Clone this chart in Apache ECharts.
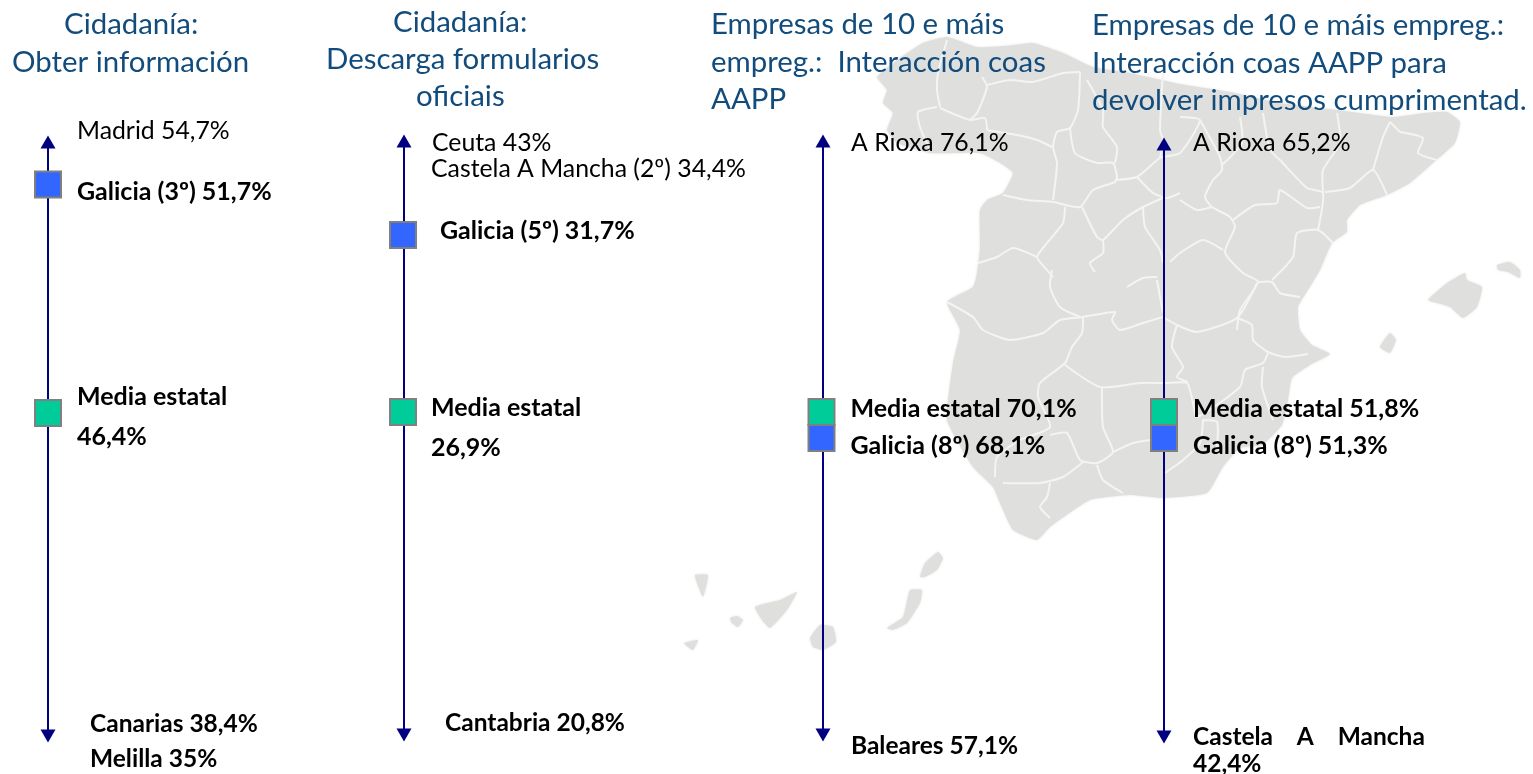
<!DOCTYPE html>
<html><head><meta charset="utf-8">
<style>html,body{margin:0;padding:0;background:#fff}#c{width:1533px;height:774px}</style>
<script src="https://cdn.jsdelivr.net/npm/echarts@6/dist/echarts.min.js"></script>
</head><body><div id="c"></div>
<script>
// ---- data ----
const p1Names = ["Galicia (3º)", "Media estatal"];
const p1Values = [51.7, 46.4];
const p2Names = ["Galicia (5º)", "Media estatal"];
const p2Values = [31.7, 26.9];
const p3Names = ["Media estatal", "Galicia (8º)"];
const p3Values = [70.1, 68.1];
const p4Names = ["Media estatal", "Galicia (8º)"];
const p4Values = [51.8, 51.3];
const COL_GAL = "#3366FF", COL_MED = "#00CC99", COL_TITLE = "#124C7C", COL_AXIS = "#000080";
const FONT = "Lato, Carlito, Calibri, sans-serif";
const TS = 29.4, LS = 24.8, BS = 24.5, DS = 25;

// ---- background map (decorative) ----
const mapLand = [[
 [877,77],[900,58],[923,43],[947,37],[977,47],[1005,46],[1033,43],[1063,53],[1093,67],[1130,73],[1180,84],[1230,92],[1280,103],[1337,110],[1393,117],[1425,113],[1447,112],[1460,122],[1455,143],[1433,163],[1410,183],[1387,195],[1360,205],[1347,220],[1347,232],[1332,243],[1320,270],[1308,290],[1298,307],[1300,330],[1312,345],[1330,354],[1310,365],[1292,378],[1288,400],[1282,425],[1262,445],[1240,448],[1223,467],[1207,493],[1163,498],[1130,495],[1090,500],[1050,527],[1037,540],[1013,530],[1000,503],[993,487],[973,467],[947,420],[953,363],[960,330],[947,302],[973,287],[977,273],[980,247],[980,210],[987,200],[1003,193],[1013,173],[1000,163],[980,153],[930,153],[897,143],[887,130],[893,113],[883,103],[887,90]
],[[1428,300],[1447,283],[1465,273],[1467,280],[1482,287],[1477,307],[1463,318],[1450,307],[1437,303]],
[[1497,265],[1510,262],[1520,270],[1520,278],[1508,272],[1498,270]],
[[1380,347],[1390,333],[1396,340],[1390,353]],
[[695,575],[708,575],[703,597],[697,583]],
[[755,607],[780,600],[797,592],[787,610],[770,628],[762,620]],
[[730,618],[737,616],[743,620],[738,627],[732,623]],
[[684,643],[698,640],[693,650],[688,647]],
[[810,638],[820,625],[833,627],[836,642],[823,650],[813,647]],
[[887,628],[903,617],[910,590],[922,590],[920,603],[907,623],[893,630]],
[[920,577],[925,563],[938,552],[943,558],[937,570],[925,577]]];
const mapBorders = [
 [[947,40],[938,73],[937,90],[940,107]],[[937,107],[918,112],[920,127],[930,150]],[[940,108],[970,120],[985,118],[987,130]],[[982,77],[987,87],[977,113],[970,120]],
 [[987,85],[1010,80],[1033,82],[1063,73],[1080,72]],[[1080,72],[1078,110],[1070,128],[1057,132],[1053,147],[1057,163],[1053,200]],[[987,130],[1017,135],[1037,140],[1052,147]],
 [[1070,128],[1075,153],[1097,163],[1113,163],[1117,177],[1115,182],[1093,190],[1080,207],[1053,202],[1027,200],[1003,195]],
 [[1115,163],[1117,147],[1103,127],[1103,110],[1087,80]],[[1163,73],[1160,130],[1163,140],[1160,158]],[[1115,180],[1137,177],[1160,158],[1180,153],[1200,120],[1180,117]],
 [[1137,177],[1153,193],[1167,198],[1180,193]],[[1082,207],[1097,237],[1103,240],[1123,220],[1143,207],[1163,198]],
 [[1065,207],[1063,223],[1047,243],[1037,257],[1047,270],[1053,277]],[[1037,257],[1013,248],[997,257],[978,263]],[[1103,240],[1103,253],[1090,263],[1095,272]],[[1143,207],[1145,227],[1160,250],[1163,263]],
 [[1200,120],[1220,157],[1222,170],[1213,180],[1205,197],[1212,207],[1230,217],[1235,227],[1225,252],[1243,273],[1258,282],[1240,310],[1237,330]],
 [[1180,200],[1197,210],[1212,207]],[[1170,262],[1180,253],[1203,240],[1223,250]],[[1233,220],[1255,205],[1277,203],[1280,190],[1307,208],[1320,207]],
 [[1258,282],[1272,282],[1280,293],[1300,297]],[[1272,280],[1293,257],[1297,233],[1318,230],[1333,243]],[[1318,230],[1323,193],[1307,188],[1280,160],[1270,150],[1263,113]],
 [[1325,192],[1350,188],[1373,170],[1387,195]],[[1323,192],[1323,170],[1340,143],[1337,113]],[[1373,170],[1383,137],[1390,122]],[[1400,132],[1423,138],[1418,153],[1437,160]],[[1390,122],[1400,132]],
 [[1240,117],[1242,143],[1222,165]],
 [[947,302],[973,317],[983,330],[1010,340],[1043,333],[1060,320],[1083,317],[1115,312],[1112,320],[1120,330],[1143,323],[1163,317]],[[1080,317],[1060,307],[1050,287],[1052,270]],
 [[1083,317],[1082,333],[1072,347],[1065,363],[1040,383],[1038,397],[1050,427],[1020,440],[997,457],[995,477]],
 [[1065,365],[1100,387],[1140,383],[1165,383],[1187,383],[1193,403],[1197,417],[1240,387],[1245,370],[1263,363],[1268,353]],
 [[1102,388],[1103,427],[1113,452],[1097,463],[1080,460],[1067,433],[1050,435]],[[1113,452],[1133,443],[1150,440]],[[1097,465],[1103,480],[1123,493]],[[1083,462],[1063,477],[1040,483],[1003,483]],[[1050,483],[1047,497],[1040,507],[1050,518]],
 [[1163,317],[1177,325],[1197,332],[1237,318],[1257,283]],[[1177,325],[1172,347],[1183,367],[1177,377],[1188,382]],[[1237,318],[1252,325],[1253,340],[1268,352],[1285,357],[1308,354]],
 [[1263,367],[1262,387],[1273,420]],[[1203,420],[1200,443],[1183,460],[1165,473]],[[1203,420],[1217,422],[1217,447]],[[1157,280],[1163,313]],[[1127,287],[1143,278],[1157,277]]
];

// ---- panels ----
const panels = [
 {x:48,  top:142, bottom:736, names:p1Names, values:p1Values, ys:[184.5,413], colors:[COL_GAL,COL_MED], off:0},
 {x:404, top:141, bottom:735, names:p2Names, values:p2Values, ys:[235,412],   colors:[COL_GAL,COL_MED], off:-1},
 {x:823, top:141, bottom:735, names:p3Names, values:p3Values, ys:[412,438],   colors:[COL_MED,COL_GAL], off:-1.5},
 {x:1164,top:144, bottom:737, names:p4Names, values:p4Values, ys:[412,438],   colors:[COL_MED,COL_GAL], off:0}
];
const labelLayout = [
 [{o:[15,7]},{o:[15,4],two:true}],
 [{o:[23,-4]},{o:[14,16],two:true}],
 [{o:[15,-3]},{o:[15,8]}],
 [{o:[15,-3]},{o:[15,8]}]
];
const fmt = v => String(v).replace('.',',') + '%';

const texts = [
 // titles
 ["Cidadanía:",64,25,0],["Obter información",12,63,0],
 ["Cidadanía:",393,23,0],["Descarga formularios",326,60,0],["oficiais",416,97,0],
 ["Empresas de 10 e máis",711,25,0],["empreg.:  Interacción coas",711,63,0],["AAPP",711,100,0],
 ["Empresas de 10 e máis empreg.:",1092,26,0],["Interacción coas AAPP para",1092,64,0],["devolver impresos cumprimentad.",1092,101,0],
 // extremes
 ["Madrid 54,7%",77,131,1],["Ceuta 43%",432,143,1],["Castela A Mancha (2º) 34,4%",431,169,1],["A Rioxa 76,1%",851,143,1],["A Rioxa 65,2%",1193,143,1],
 ["Canarias 38,4%",90,724,2],["Melilla 35%",90,759,2],["Cantabria 20,8%",445,723,2],["Baleares 57,1%",851,746,2],["Castela    A    Mancha",1193,737,2],["42,4%",1193,764,2]
];

const grid=[],xAxis=[],yAxis=[],series=[];
panels.forEach((p,i)=>{
  const ppu=(p.ys[1]-p.ys[0])/(p.values[0]-p.values[1]);
  grid.push({left:p.x,top:p.top,width:30,height:p.bottom-p.top});
  xAxis.push({gridIndex:i,type:'value',min:0,max:1,show:false});
  yAxis.push({gridIndex:i,type:'value',
    max:p.values[0]+(p.ys[0]-p.top)/ppu,
    min:p.values[1]-(p.bottom-p.ys[1])/ppu,
    splitLine:{show:false},axisTick:{show:false},axisLabel:{show:false},
    axisLine:{show:true,onZero:false,symbol:['triangle','triangle'],symbolSize:[15,13],lineStyle:{color:COL_AXIS,width:2}}});
  series.push({type:'scatter',xAxisIndex:i,yAxisIndex:i,symbol:'rect',symbolSize:26,clip:false,symbolOffset:[p.off,0],
    itemStyle:{opacity:1},
    data:p.values.map((v,j)=>({value:[0,v],name:p.names[j],
      itemStyle:{color:p.colors[j],borderColor:'#808080',borderWidth:2,opacity:1},
      label:{show:true,position:'right',distance:0,offset:labelLayout[i][j].o,
        formatter:labelLayout[i][j].two?p.names[j]+'\n'+fmt(v):p.names[j]+' '+fmt(v),
        lineHeight:labelLayout[i][j].two?40:28,
        color:'#000',opacity:1,fontFamily:FONT,fontSize:DS,fontWeight:'bold',textBorderWidth:0}})) });
});

const graphic=[];
mapLand.forEach(pts=>graphic.push({type:'polygon',silent:true,z:-5,shape:{points:pts,smooth:0.15},style:{fill:'#DFDFDD',shadowBlur:3,shadowColor:'#E6E6E4'}}));
mapBorders.forEach(pts=>graphic.push({type:'polyline',silent:true,z:-4,shape:{points:pts,smooth:0.2},style:{fill:null,stroke:'#F4F4F3',lineWidth:2}}));
texts.forEach(([t,x,y,k])=>graphic.push({type:'text',silent:true,z:10,x:x,y:y,style:{text:t,verticalAlign:'middle',
  fill:k===0?COL_TITLE:'#000',fontFamily:FONT,fontSize:k===0?TS:(k===1?LS:BS),fontWeight:k===2?'bold':'normal'}}));

const chart=echarts.init(document.getElementById('c'),null,{renderer:'canvas'});
chart.setOption({animation:false,backgroundColor:'#fff',grid,xAxis,yAxis,series,graphic});
</script></body></html>
